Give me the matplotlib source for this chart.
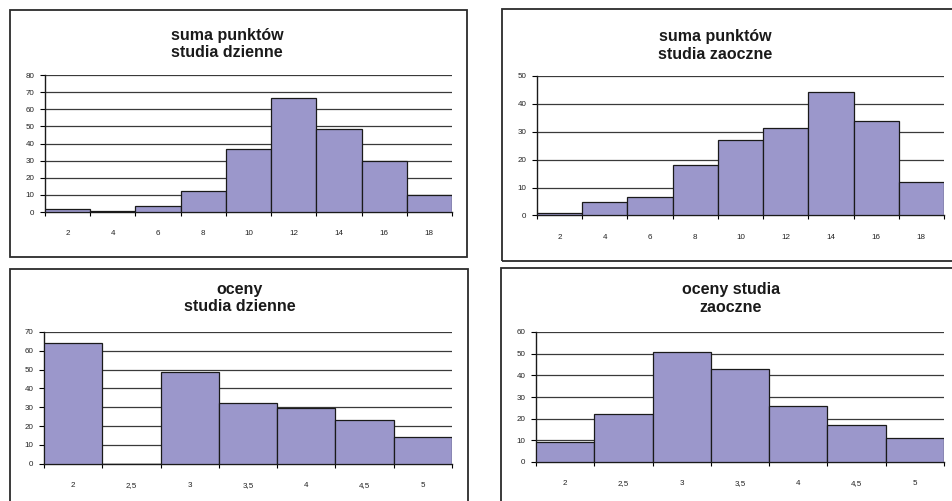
import matplotlib
matplotlib.use("Agg")
import matplotlib.pyplot as plt
from matplotlib.patches import Rectangle

plt.rcParams['font.family'] = ['Liberation Sans', 'DejaVu Sans']

# histogram data
pts_bins = ['2', '4', '6', '8', '10', '12', '14', '16', '18']
pts_dzienne = [1.5, 0.7, 3.5, 12, 36.5, 66.5, 48.5, 30, 10]
pts_zaoczne = [1, 4.7, 6.8, 18, 27, 31.2, 44.2, 34, 12]

grade_bins = ['2', '2,5', '3', '3,5', '4', '4,5', '5']
grade_dzienne = [64, 0, 48.5, 32.5, 29.5, 23.3, 14.3]
grade_zaoczne = [9.3, 22, 51, 43, 26, 17, 11]

W, H = 953, 501
BAR = '#9b97cb'

fig = plt.figure(figsize=(W / 100, H / 100), dpi=100)


def px_rect(x0, y0, x1, y1):
    # pixel box (top-left origin) -> figure fraction [l, b, w, h]
    return [x0 / W, 1 - y1 / H, (x1 - x0) / W, (y1 - y0) / H]


def frame(x0, y0, x1, y1):
    l, b, w, h = px_rect(x0, y0, x1, y1)
    fig.add_artist(Rectangle((l, b), w, h, transform=fig.transFigure,
                             fill=False, edgecolor='#2b2b2b', lw=1.3, clip_on=False))


def panel(box, cats, vals, ymax, ystep, title, tx, ty):
    ax = fig.add_axes(px_rect(*box))
    n = len(cats)
    pos = [i + 0.5 for i in range(n)]
    ax.bar(pos, vals, width=1.0, color=BAR, edgecolor='#1a1a1a', linewidth=0.9, zorder=3)
    ax.set_xlim(0, n)
    ax.set_ylim(0, ymax)
    ax.set_yticks(range(0, ymax + 1, ystep))
    ax.set_xticks(range(n + 1))
    ax.set_xticklabels([])
    ax.set_xticks(pos, minor=True)
    ax.set_xticklabels(cats, minor=True)
    ax.tick_params(axis='x', which='major', length=3, width=0.8, direction='out')
    ax.tick_params(axis='x', which='minor', length=0, pad=13, labelsize=5.8, labelcolor='#222222')
    ax.tick_params(axis='y', length=3.5, width=0.8, pad=4, labelsize=5.8, labelcolor='#222222')
    ax.yaxis.grid(True, color='#3a3a3a', lw=0.9)
    ax.set_axisbelow(True)
    for s in ['top', 'right']:
        ax.spines[s].set_visible(False)
    for s in ['left', 'bottom']:
        ax.spines[s].set_color('#1a1a1a')
        ax.spines[s].set_linewidth(1.0)
    fig.text(tx / W, 1 - ty / H, title, ha='center', va='center',
             fontsize=11.5, fontweight='bold', color='#1a1a1a', linespacing=1.2)
    return ax


frame(10, 10, 467, 257)
frame(502, 9, 960, 261)
frame(10, 269, 468, 515)
frame(501, 268, 960, 515)

panel((45, 75, 452, 212), pts_bins, pts_dzienne, 80, 10,
      'suma punktów\nstudia dzienne', 227, 44)
panel((537, 76, 944, 215.5), pts_bins, pts_zaoczne, 50, 10,
      'suma punktów\nstudia zaoczne', 715, 45.5)
panel((44, 332, 452, 463.7), grade_bins, grade_dzienne, 70, 10,
      'oceny\nstudia dzienne', 240, 298)
panel((536, 332, 944, 462), grade_bins, grade_zaoczne, 60, 10,
      'oceny studia\nzaoczne', 731, 298.5)

fig.savefig('out.png', dpi=100)
